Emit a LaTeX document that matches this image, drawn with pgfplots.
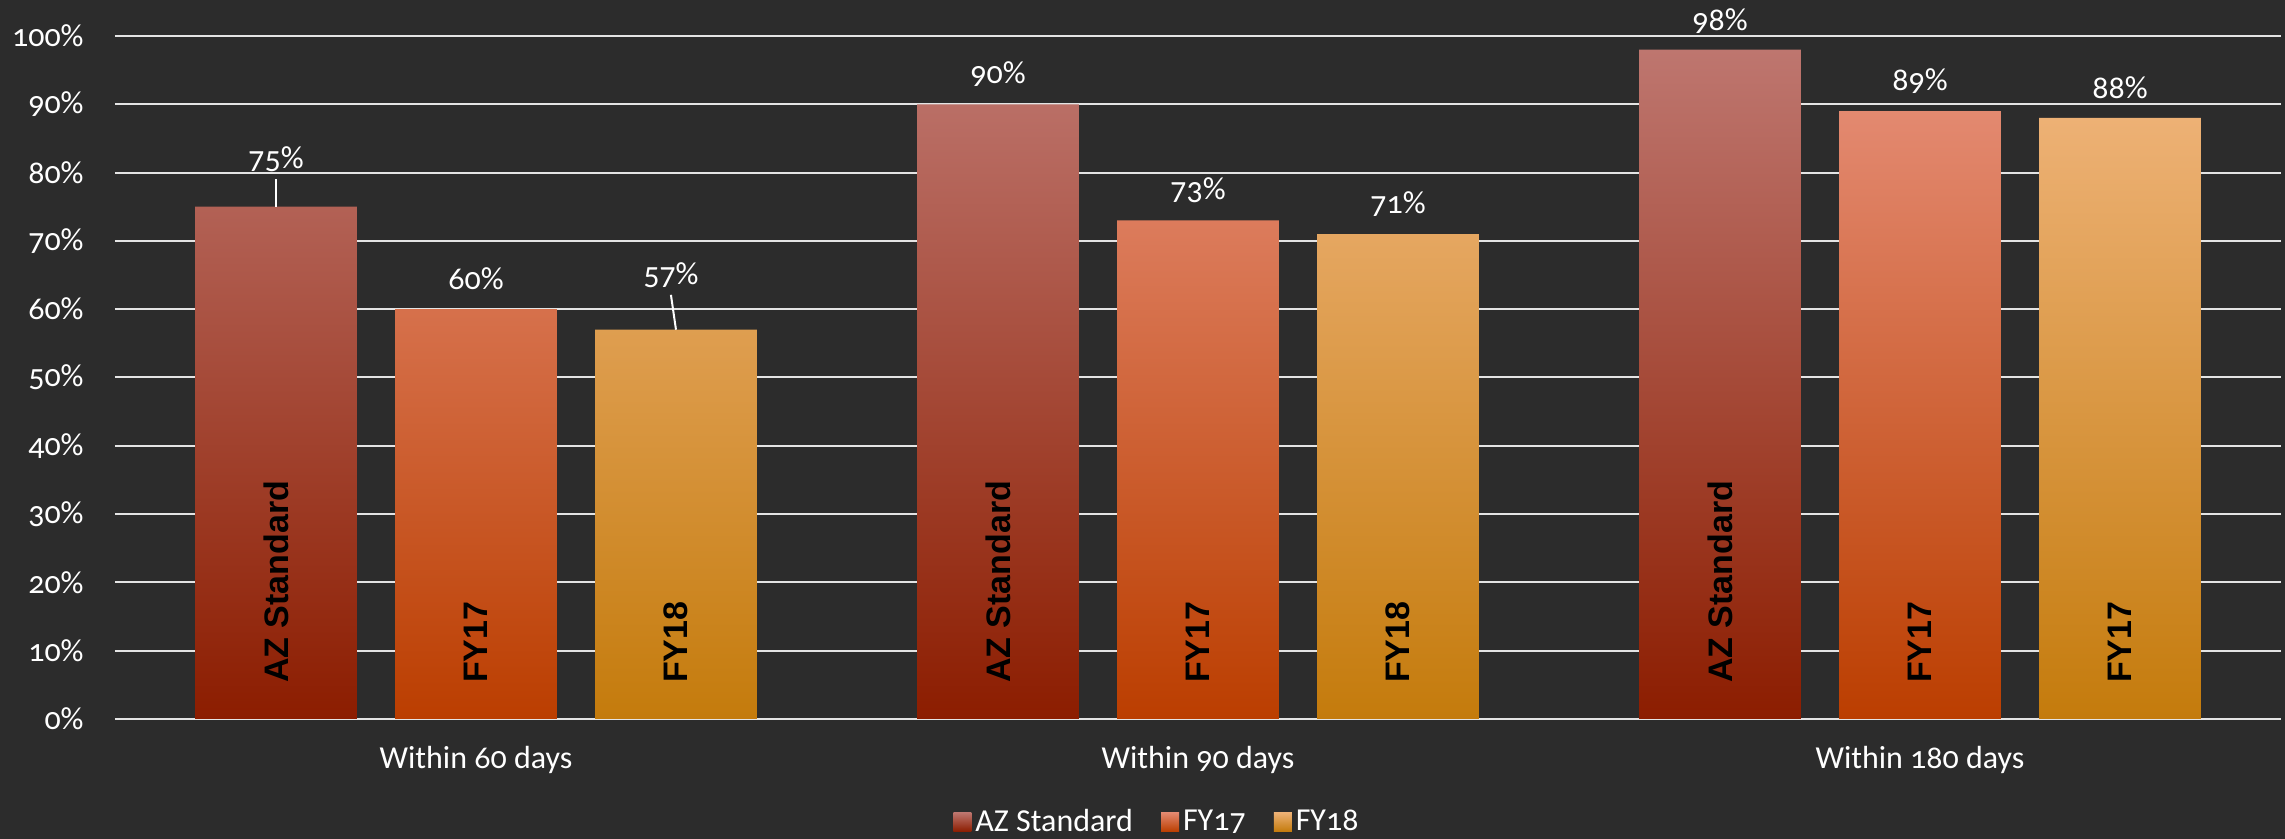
\documentclass[border=0pt]{standalone}
\usepackage{fontspec}
\setmainfont{Carlito}[Numbers=OldStyle]
\newfontfamily\barfont{Liberation Sans}
\usepackage{pgfplots}
\usepackage{pgfplotstable}
\pgfplotsset{compat=1.18}

\definecolor{bg}{RGB}{44,44,44}
\definecolor{gridc}{RGB}{228,228,228}
\definecolor{azT}{RGB}{190,118,111}
\definecolor{azM}{RGB}{158,48,25}
\definecolor{azB}{RGB}{140,29,0}
\definecolor{f7T}{RGB}{227,137,112}
\definecolor{f7M}{RGB}{205,88,40}
\definecolor{f7B}{RGB}{187,62,0}
\definecolor{f8T}{RGB}{237,177,117}
\definecolor{f8M}{RGB}{218,148,50}
\definecolor{f8B}{RGB}{196,123,12}

\newcommand\lbl{\fontsize{16}{19}\selectfont}
\newcommand\inlbl{\barfont\bfseries\fontsize{17}{20}\selectfont}

% x = category, y = percent, dx = label x offset (axis units), off = label y offset (px), lab = text inside bar
\pgfplotstableread{
x y dx off lab
0 75 0 48 {AZ Standard}
1 90 0 30 {AZ Standard}
2 98 0 29 {AZ Standard}
}\az
\pgfplotstableread{
x y dx off lab
0 60 0 30 FY17
1 73 0 30 FY17
2 89 0 30 FY17
}\fyA
\pgfplotstableread{
x y dx off lab
0 57 -0.007 54 FY18
1 71 0 30 FY18
2 88 0 30 FY17
}\fyB

\pgfplotsset{
  pctbar/.style={ybar, bar width=0.224, bar shift=#1, draw=none,
    legend image code/.code={\fill[##1] (0pt,-4.75pt) rectangle (9pt,4.75pt);}},
  toplabel/.style={draw=none, mark=none, forget plot,
    nodes near coords={\pgfmathprintnumber{\pgfplotspointmeta}\%},
    point meta=y,
    visualization depends on={\thisrow{off} \as \off},
    every node near coord/.append style={anchor=center, yshift=\off*0.5pt,
      text=white, font=\lbl}},
  inlabel/.style={draw=none, mark=none, forget plot,
    point meta=explicit symbolic, nodes near coords,
    every node near coord/.append style={yshift=14.5pt, rotate=90,
      anchor=west, font=\inlbl, text=black}},
}

\begin{document}
\begin{tikzpicture}
\fill[bg] (0,0) rectangle (1142.5pt,419.5pt);
\useasboundingbox (0,0) rectangle (1142.5pt,419.5pt);
\begin{axis}[
  at={(57.5pt,60pt)}, anchor=south west,
  scale only axis, width=1083pt, height=341.5pt,
  xmin=-0.5, xmax=2.5, ymin=0, ymax=100,
  clip=false,
  /pgf/number format/assume math mode=true,
  xtick={0,1,2},
  xticklabels={Within 60 days,Within 90 days,Within 180 days},
  ytick={0,10,20,30,40,50,60,70,80,90,100},
  yticklabels={0\%,10\%,20\%,30\%,40\%,50\%,60\%,70\%,80\%,90\%,100\%},
  axis line style={draw=none},
  major tick length=0pt,
  ymajorgrids, grid style={gridc, line width=1pt},
  tick label style={font=\lbl, text=white},
  xticklabel style={anchor=base, yshift=-25pt},
  yticklabel style={anchor=east, inner sep=0pt, xshift=-15.5pt},
  legend style={at={(0.5,0)}, anchor=center, xshift=-20pt, yshift=-51.5pt,
    draw=none, fill=none, text=white, font=\lbl,
    /tikz/every even column/.append style={column sep=12pt}},
  legend columns=-1,
]
\addplot[pctbar=-0.277, top color=azT, middle color=azM, bottom color=azB]
  table[x=x, y=y] {\az};
\addplot[pctbar=0, top color=f7T, middle color=f7M, bottom color=f7B]
  table[x=x, y=y] {\fyA};
\addplot[pctbar=0.277, top color=f8T, middle color=f8M, bottom color=f8B]
  table[x=x, y=y] {\fyB};

% value labels above the bars
\addplot[toplabel] table[x expr=\thisrow{x}-0.277+\thisrow{dx}, y=y] {\az};
\addplot[toplabel] table[x expr=\thisrow{x}+\thisrow{dx}, y=y] {\fyA};
\addplot[toplabel] table[x expr=\thisrow{x}+0.277+\thisrow{dx}, y=y] {\fyB};

% series names written up the bars
\addplot[inlabel] table[x expr=\thisrow{x}-0.277, y expr=0, meta=lab] {\az};
\addplot[inlabel] table[x expr=\thisrow{x}, y expr=0, meta=lab] {\fyA};
\addplot[inlabel] table[x expr=\thisrow{x}+0.277, y expr=0, meta=lab] {\fyB};

% leader lines for the two moved labels
\addplot[white, line width=1pt, forget plot] coordinates {(-0.277,75) (-0.277,79.1)};
\addplot[white, line width=1pt, forget plot] coordinates {(0.277,57) (0.270,62.1)};

\legend{AZ Standard, FY17, FY18}
\end{axis}
\end{tikzpicture}
\end{document}
